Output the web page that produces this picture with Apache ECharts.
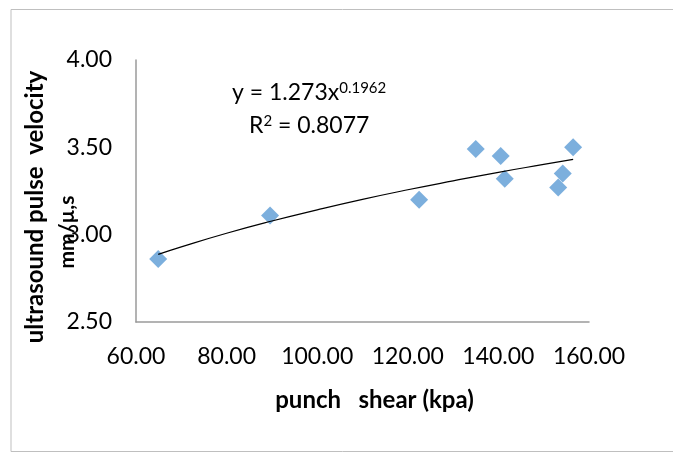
<!DOCTYPE html>
<html>
<head>
<meta charset="utf-8">
<script src="https://cdn.jsdelivr.net/npm/echarts@6/dist/echarts.min.js"></script>
<style>
html,body{margin:0;padding:0;background:#fff;}
#chart{width:673px;height:453px;}
</style>
</head>
<body>
<div id="chart"></div>
<script>
// Data
const punchShear = [64.9, 89.6, 122.5, 135.0, 140.5, 141.4, 154.2, 153.2, 156.5];
const pulseVelocity = [2.86, 3.11, 3.20, 3.49, 3.45, 3.32, 3.35, 3.27, 3.50];
// Power trendline
const trendX = [64.9, 70, 80, 90, 100, 110, 120, 130, 140, 150, 156.5];
const trendY = [2.887, 2.930, 3.008, 3.078, 3.142, 3.202, 3.257, 3.308, 3.357, 3.402, 3.431];
const xTicks = { min: 60, max: 160, interval: 20 };
const yTicks = { min: 2.5, max: 4.0, interval: 0.5 };
const xTitle = 'punch   shear (kpa)';
const yTitleLine1 = 'ultrasound pulse  velocity';
const yTitleLine2 = 'mm/\u00B5,s';
const eqCoef = '1.273';
const eqExp = '0.1962';
const rSquared = '0.8077';

const FONT = "Lato, 'Open Sans', 'Liberation Sans', sans-serif";
const chart = echarts.init(document.getElementById('chart'), null, { renderer: 'canvas' });

const points = punchShear.map((x, i) => [x, pulseVelocity[i]]);
const trend = trendX.map((x, i) => [x, trendY[i]]);

chart.setOption({
  backgroundColor: '#ffffff',
  animation: false,
  grid: { left: 136, right: 84, top: 60, bottom: 131, containLabel: false },
  xAxis: {
    type: 'value',
    min: xTicks.min, max: xTicks.max, interval: xTicks.interval,
    axisLine: { show: true, lineStyle: { color: '#9a9a9a', width: 1.5 } },
    axisTick: { show: false },
    splitLine: { show: false },
    axisLabel: {
      color: '#000', fontFamily: FONT, fontSize: 23, margin: 23,
      formatter: v => v.toFixed(2)
    },
    name: xTitle,
    nameLocation: 'middle',
    nameGap: 66,
    nameTextStyle: { color: '#000', fontFamily: FONT, fontSize: 24, fontWeight: 'bold', padding: [0, 0, 0, 24] }
  },
  yAxis: {
    type: 'value',
    min: yTicks.min, max: yTicks.max, interval: yTicks.interval,
    axisLine: { show: true, lineStyle: { color: '#9a9a9a', width: 1.5 } },
    axisTick: { show: false },
    splitLine: { show: false },
    axisLabel: {
      color: '#000', fontFamily: FONT, fontSize: 23, margin: 24,
      formatter: v => v.toFixed(2)
    }
  },
  graphic: [
    {
      type: 'rect',
      shape: { x: 11, y: 9.5, width: 700, height: 442 },
      style: { fill: 'none', stroke: '#bfbfbf', lineWidth: 1 },
      silent: true, z: -1
    },
    {
      type: 'text',
      x: 35, y: 207, rotation: Math.PI / 2,
      style: {
        text: yTitleLine1, fill: '#000', font: 'bold 24px ' + FONT,
        align: 'center', verticalAlign: 'middle'
      }
    },
    {
      type: 'text',
      x: 67, y: 232, rotation: Math.PI / 2,
      style: {
        text: yTitleLine2, fill: '#000', font: 'bold 21px ' + FONT,
        align: 'center', verticalAlign: 'middle'
      }
    },
    {
      type: 'text',
      x: 232, y: 93,
      style: {
        text: '{b|y = ' + eqCoef + 'x}{s|' + eqExp + '}',
        verticalAlign: 'middle',
        rich: {
          b: { fontFamily: FONT, fontSize: 23, color: '#000' },
          s: { fontFamily: FONT, fontSize: 15, color: '#000', padding: [0, 0, 10, 0] }
        }
      }
    },
    {
      type: 'text',
      x: 249, y: 126,
      style: {
        text: '{b|R}{s|2}{b| = ' + rSquared + '}',
        verticalAlign: 'middle',
        rich: {
          b: { fontFamily: FONT, fontSize: 23, color: '#000' },
          s: { fontFamily: FONT, fontSize: 15, color: '#000', padding: [0, 0, 10, 0] }
        }
      }
    }
  ],
  series: [
    {
      type: 'line',
      data: trend,
      smooth: true,
      showSymbol: false,
      lineStyle: { color: '#000', width: 1.2 },
      z: 3
    },
    {
      type: 'scatter',
      data: points,
      symbol: 'diamond',
      symbolSize: 18,
      itemStyle: { color: '#5B9BD5' },
      z: 2
    }
  ]
});
</script>
</body>
</html>
